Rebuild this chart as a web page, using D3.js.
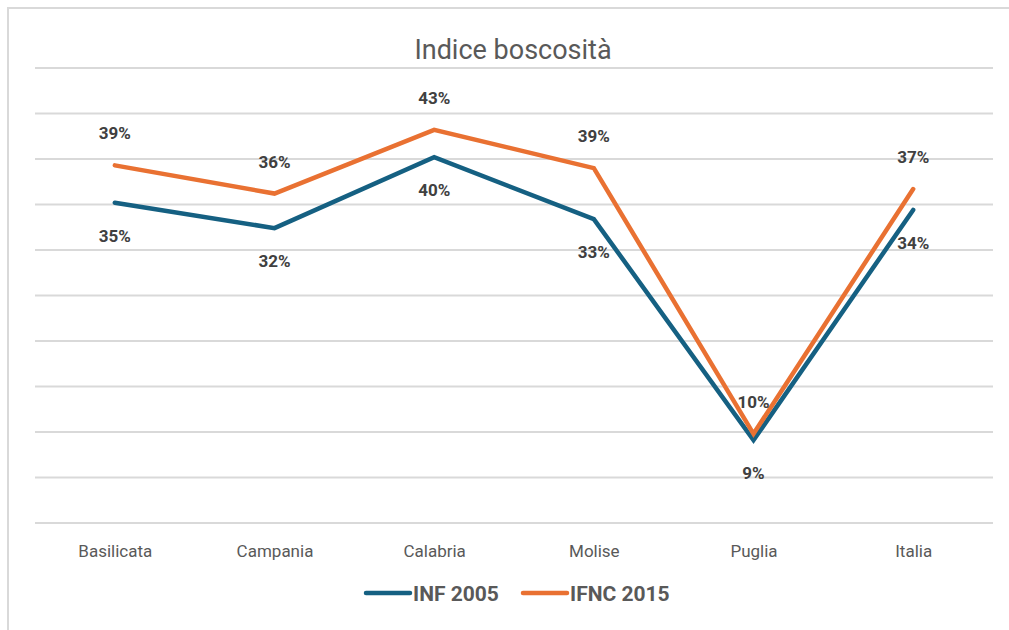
<!DOCTYPE html>
<html>
<head>
<meta charset="utf-8">
<script src="https://cdn.jsdelivr.net/npm/d3@7"></script>
<style>
  body { margin: 0; background: #fff; }
  svg text { font-family: "Roboto", "Liberation Sans", sans-serif; }
</style>
</head>
<body>
<svg id="chart" width="1009" height="630"></svg>
<script>
// values
var regions = ["Basilicata", "Campania", "Calabria", "Molise", "Puglia", "Italia"];
var inf2005 = [35.2, 32.4, 40.2, 33.4, 9.1, 34.4];
var ifnc2015 = [39.3, 36.2, 43.2, 39.0, 9.8, 36.7];
var yTicks = [0, 5, 10, 15, 20, 25, 30, 35, 40, 45, 50];

var svg = d3.select("#chart"),
    width = +svg.attr("width"),
    height = +svg.attr("height");

var margin = {top: 68, right: 16, bottom: 107, left: 35};

// chart border
svg.append("rect")
    .attr("x", 8).attr("y", 8)
    .attr("width", width + 10).attr("height", height + 10)
    .attr("fill", "#fff")
    .attr("stroke", "#d9d9d9")
    .attr("stroke-width", 2);

var x = d3.scalePoint()
    .domain(regions)
    .range([margin.left, width - margin.right])
    .padding(0.5);

var y = d3.scaleLinear()
    .domain([0, 50])
    .range([height - margin.bottom, margin.top]);

// gridlines
svg.append("g")
    .attr("class", "grid")
    .selectAll("line")
    .data(yTicks)
    .enter().append("line")
    .attr("x1", margin.left)
    .attr("x2", width - margin.right)
    .attr("y1", function (d) { return y(d); })
    .attr("y2", function (d) { return y(d); })
    .attr("stroke", "#d9d9d9")
    .attr("stroke-width", 2);

// category axis
var xAxis = svg.append("g")
    .attr("transform", "translate(0," + (height - margin.bottom) + ")")
    .call(d3.axisBottom(x).tickSize(0).tickPadding(22));
xAxis.select(".domain").remove();
xAxis.selectAll("text")
    .attr("fill", "#595959")
    .style("font-size", "17px");

// title
svg.append("text")
    .attr("x", 513)
    .attr("y", 59)
    .attr("text-anchor", "middle")
    .attr("fill", "#595959")
    .style("font-size", "27px")
    .text("Indice boscosità");

var series = [
    {name: "INF 2005", values: inf2005, color: "#156082", dy: 39},
    {name: "IFNC 2015", values: ifnc2015, color: "#e97132", dy: -26}
];

var line = d3.line()
    .x(function (d, i) { return x(regions[i]); })
    .y(function (d) { return y(d); });

svg.append("g")
    .selectAll("path")
    .data(series)
    .enter().append("path")
    .attr("d", function (d) { return line(d.values); })
    .attr("fill", "none")
    .attr("stroke", function (d) { return d.color; })
    .attr("stroke-width", 4.5)
    .attr("stroke-linecap", "round")
    .attr("stroke-linejoin", "miter");

// data labels
series.forEach(function (s) {
    svg.append("g")
        .selectAll("text")
        .data(s.values)
        .enter().append("text")
        .attr("x", function (d, i) { return x(regions[i]); })
        .attr("y", function (d) { return y(d) + s.dy; })
        .attr("text-anchor", "middle")
        .attr("fill", "#404040")
        .style("font-size", "17px")
        .style("font-weight", "bold")
        .text(function (d) { return Math.round(d) + "%"; });
});

// legend
var legend = svg.append("g")
    .selectAll("g")
    .data(series)
    .enter().append("g")
    .attr("transform", function (d, i) { return "translate(" + (366 + i * 157) + ",593)"; });

legend.append("line")
    .attr("x1", 0).attr("x2", 44)
    .attr("stroke", function (d) { return d.color; })
    .attr("stroke-width", 4.5)
    .attr("stroke-linecap", "round");

legend.append("text")
    .attr("x", 47)
    .attr("y", 8)
    .attr("fill", "#595959")
    .style("font-size", "21px")
    .style("font-weight", "bold")
    .text(function (d) { return d.name; });
</script>
</body>
</html>
